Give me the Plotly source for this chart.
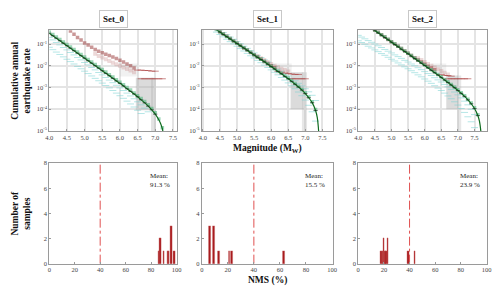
import plotly.graph_objects as go

# ---------------- data ----------------
MAG = [4.0, 4.1, 4.2, 4.3, 4.4, 4.5, 4.6, 4.7, 4.8, 4.9, 5.0, 5.1, 5.2, 5.3, 5.4, 5.5,
       5.6, 5.7, 5.8, 5.9, 6.0, 6.1, 6.2, 6.3, 6.4, 6.5, 6.6, 6.7, 6.8, 6.9, 7.0, 7.1,
       7.2, 7.3, 7.4, 7.5, 7.6]

set_names = ["Set_0", "Set_1", "Set_2"]

# log10 of cumulative annual rate; series start magnitude given
s0 = dict(
    line_start=4.0, line_tail_m=[7.1, 7.15, 7.2, 7.25],
    line_log=[-0.50, -0.62, -0.73, -0.85, -0.96, -1.08, -1.19, -1.31, -1.42, -1.54, -1.65,
              -1.77, -1.88, -2.00, -2.11, -2.23, -2.35, -2.46, -2.58, -2.70, -2.81, -2.93,
              -3.06, -3.18, -3.30, -3.43, -3.57, -3.71, -3.86, -4.03, -4.23],
    line_tail_log=[-4.49, -4.66, -4.90, -5.35],
    green_start=4.0,
    green_log=[-0.45, -0.56, -0.68, -0.79, -0.91, -1.02, -1.14, -1.25, -1.37, -1.48, -1.60,
               -1.71, -1.83, -1.94, -2.06, -2.17, -2.29, -2.41, -2.52, -2.64, -2.76, -2.88,
               -3.00, -3.12, -3.25, -3.38, -3.51, -3.65, -3.80, -3.97, -4.17, -4.45, -4.85],
    cyan_a_start=4.0,
    cyan_a_log=[-0.70, -0.81, -0.93, -1.04, -1.16, -1.27, -1.39, -1.50, -1.62, -1.73, -1.85,
                -1.96, -2.08, -2.19, -2.31, -2.42, -2.54, -2.66, -2.78, -2.90, -3.02, -3.14,
                -3.26, -3.39, -3.52, -3.66, -3.80, -3.95, -4.12],
    cyan_b_start=4.0,
    cyan_b_log=[-1.15, -1.26, -1.37, -1.48, -1.59, -1.70, -1.81, -1.92, -2.03, -2.14, -2.25,
                -2.36, -2.47, -2.58, -2.69, -2.80, -2.91, -3.02, -3.14, -3.26, -3.38, -3.50,
                -3.63, -3.76, -3.90, -4.05, -4.20],
    red_start=4.6,
    red_log=[-0.40, -0.55, -0.70, -0.82, -0.95, -1.05, -1.15, -1.25, -1.33, -1.40, -1.47,
             -1.53, -1.60, -1.67, -1.75, -1.83, -1.92, -2.00, -2.10],
    pink_start=5.3,
    pink_log=[-1.45, -1.55, -1.62, -1.70, -1.78, -1.86, -1.93, -2.00, -2.08, -2.15, -2.22, -2.30],
    dashA_start=6.5, dashA_log=[-2.20, -2.20, -2.22, -2.22, -2.25, -2.25],
    dashB_start=6.6, dashB_log=[-2.60, -2.60, -2.60, -2.60, -2.60, -2.60, -2.60],
    # gray uncertainty blocks: m0, m1, log_top, log_bottom, opacity
    gray=[[6.45, 6.95, -2.55, -4.05, 0.45], [6.88, 7.02, -2.55, -5.0, 0.35],
          [6.00, 6.50, -1.90, -2.50, 0.18]],
    xrange=[4.0, 7.62],
)
s1 = dict(
    line_start=4.3, line_tail_m=[7.35, 7.38, 7.40],
    line_log=[-0.24, -0.345, -0.45, -0.556, -0.66, -0.765, -0.87, -0.976, -1.08, -1.187,
              -1.29, -1.40, -1.505, -1.61, -1.715, -1.82, -1.93, -2.04, -2.15, -2.26, -2.37,
              -2.49, -2.60, -2.72, -2.85, -2.98, -3.12, -3.28, -3.47, -3.70, -4.06],
    line_tail_log=[-4.39, -4.81, -5.30],
    green_start=4.4,
    green_log=[-0.33, -0.44, -0.54, -0.65, -0.75, -0.86, -0.96, -1.07, -1.17, -1.28, -1.38,
               -1.49, -1.60, -1.70, -1.81, -1.91, -2.02, -2.13, -2.24, -2.35, -2.46, -2.57,
               -2.69, -2.82, -2.95, -3.09, -3.25, -3.44, -3.67, -4.02],
    cyan_a_start=4.4,
    cyan_a_log=[-0.26, -0.36, -0.47, -0.57, -0.68, -0.78, -0.89, -0.99, -1.10, -1.20, -1.31,
                -1.41, -1.52, -1.62, -1.73, -1.83, -1.94, -2.04, -2.15, -2.25, -2.36, -2.47,
                -2.58, -2.69, -2.81, -2.93, -3.06, -3.20, -3.36, -3.60],
    cyan_b_start=4.4,
    cyan_b_log=[-0.45, -0.56, -0.67, -0.78, -0.89, -0.99, -1.10, -1.21, -1.32, -1.43, -1.54,
                -1.64, -1.75, -1.86, -1.97, -2.08, -2.19, -2.30, -2.42, -2.54, -2.66, -2.79,
                -2.92, -3.06, -3.21, -3.38, -3.58, -3.82, -4.12, -4.55],
    red_start=4.5,
    red_log=[-0.43, -0.54, -0.64, -0.75, -0.86, -0.96, -1.07, -1.18, -1.28, -1.39, -1.49,
             -1.60, -1.70, -1.80, -1.90, -2.00, -2.08],
    pink_start=5.6,
    pink_log=[-1.55, -1.65, -1.74, -1.83, -1.92, -2.00, -2.07, -2.14, -2.20, -2.26],
    dashA_start=6.2, dashA_log=[-2.25, -2.30, -2.33, -2.36, -2.38, -2.40, -2.40],
    dashB_start=6.6, dashB_log=[-2.60, -2.60, -2.60, -2.60, -2.60],
    gray=[[6.57, 6.95, -2.30, -4.00, 0.45], [6.90, 7.05, -2.30, -5.0, 0.3],
          [6.10, 6.60, -1.90, -2.40, 0.18]],
    xrange=[3.97, 7.8],
)
s2 = dict(
    line_start=4.2, line_tail_m=[7.65, 7.70],
    line_log=[-0.059, -0.17, -0.273, -0.38, -0.487, -0.594, -0.70, -0.808, -0.916, -1.02,
              -1.13, -1.24, -1.345, -1.45, -1.56, -1.67, -1.775, -1.88, -1.99, -2.10, -2.21,
              -2.32, -2.43, -2.545, -2.66, -2.77, -2.89, -3.01, -3.14, -3.27, -3.41, -3.57,
              -3.75, -3.97, -4.29],
    line_tail_log=[-4.56, -5.15],
    green_start=4.4,
    green_log=[-0.25, -0.35, -0.46, -0.57, -0.67, -0.78, -0.89, -0.99, -1.10, -1.21, -1.32,
               -1.42, -1.53, -1.64, -1.75, -1.85, -1.96, -2.07, -2.18, -2.29, -2.40, -2.51,
               -2.63, -2.74, -2.86, -2.98, -3.11, -3.24, -3.38, -3.54, -3.72, -3.94, -4.26],
    cyan_a_start=4.0,
    cyan_a_log=[-0.60, -0.68, -0.76, -0.84, -0.92, -1.00, -1.08, -1.16, -1.25, -1.33, -1.41,
                -1.50, -1.58, -1.66, -1.75, -1.83, -1.92, -2.00, -2.09, -2.18, -2.27, -2.36,
                -2.45, -2.55, -2.65, -2.75, -2.86, -2.97, -3.09, -3.21, -3.34, -3.48, -3.63,
                -3.80, -4.00, -4.25],
    cyan_b_start=4.0,
    cyan_b_log=[-0.85, -0.93, -1.01, -1.10, -1.18, -1.27, -1.35, -1.44, -1.52, -1.61, -1.70,
                -1.78, -1.87, -1.96, -2.05, -2.14, -2.23, -2.32, -2.42, -2.51, -2.61, -2.71,
                -2.81, -2.92, -3.03, -3.14, -3.26, -3.39, -3.52, -3.66, -3.81, -3.97, -4.15,
                -4.35, -4.58, -4.85],
    red_start=4.5,
    red_log=[-0.36, -0.46, -0.57, -0.68, -0.79, -0.89, -1.00, -1.10, -1.21, -1.32, -1.42,
             -1.53, -1.63, -1.73, -1.83, -1.93, -2.02, -2.10, -2.18],
    pink_start=5.8,
    pink_log=[-1.65, -1.74, -1.83, -1.92, -2.00, -2.08, -2.16, -2.24, -2.32, -2.40],
    dashA_start=6.5, dashA_log=[-2.40, -2.45, -2.45, -2.48],
    dashB_start=6.7, dashB_log=[-2.60, -2.60, -2.60, -2.60, -2.60, -2.60, -2.60],
    gray=[[6.65, 7.00, -2.45, -4.00, 0.45], [6.98, 7.10, -2.45, -5.0, 0.3],
          [6.20, 6.65, -1.90, -2.40, 0.18]],
    xrange=[4.0, 7.88],
)
top_sets = [s0, s1, s2]

# histogram of NMS (%)
nms_x = [[86, 87, 90, 93, 94, 96, 98],
         [6, 9, 13, 21, 23, 63],
         [18, 19, 20, 21, 22, 23, 39, 44]]
nms_n = [[1, 2, 1, 1, 1, 3, 1],
         [3, 3, 1, 1, 1, 1],
         [1, 1, 2, 1, 1, 2, 1, 1]]
nms_mean = ["91.3", "15.5", "23.9"]
nms_threshold = 40

# ---------------- layout geometry ----------------
W, H = 500, 293
col_px = [(46, 176), (201, 334), (360, 491)]
top_px = (27, 130)
bot_px = (163, 266)
FONT = "Liberation Serif"


def xd(a, b):
    return [a / W, b / W]


def yd(t, b):
    return [1 - b / H, 1 - t / H]


def mags(start, n):
    i = MAG.index(start)
    return MAG[i:i + n]


def rates(logs):
    return [10 ** v for v in logs]


fig = go.Figure()
layout = dict(width=W, height=H, margin=dict(l=0, r=0, t=0, b=0),
              paper_bgcolor="white", plot_bgcolor="white", showlegend=False,
              font=dict(family=FONT, color="#222"), bargap=0)

axis_common = dict(showline=True, mirror=True, linecolor="#9a9a9a", linewidth=1,
                   ticks="inside", ticklen=2, tickcolor="#9a9a9a",
                   tickfont=dict(family=FONT, size=6.5, color="#444"), zeroline=False)

annotations = []
for k, s in enumerate(top_sets):
    xa = "x%d" % (k + 1) if k else "x"
    ya = "y%d" % (k + 1) if k else "y"
    # gray uncertainty blocks
    for g in s["gray"]:
        m0, m1, lt, lb, op = g
        fig.add_trace(go.Scatter(x=[m0, m1, m1, m0, m0],
                                 y=rates([lt, lt, lb, lb, lt]), mode="lines",
                                 fill="toself", fillcolor="rgba(175,175,175,%.2f)" % op,
                                 line=dict(width=0), xaxis=xa, yaxis=ya, hoverinfo="skip"))
    # cyan dashes
    for key in ("cyan_a", "cyan_b"):
        v = s[key + "_log"]
        fig.add_trace(go.Scatter(x=mags(s[key + "_start"], len(v)), y=rates(v), mode="markers",
                                 marker=dict(symbol="line-ew", size=5,
                                             line=dict(width=1, color="rgba(120,210,210,0.55)")),
                                 xaxis=xa, yaxis=ya))
    # pink cloud (observed samples)
    v = s["pink_log"]
    fig.add_trace(go.Scatter(x=mags(s["pink_start"], len(v)), y=rates(v), mode="markers",
                             marker=dict(symbol="square", size=4, color="rgba(190,120,120,0.28)",
                                         line=dict(width=0)),
                             xaxis=xa, yaxis=ya))
    # red dashes
    for key in ("dashA", "dashB"):
        v = s[key + "_log"]
        fig.add_trace(go.Scatter(x=mags(s[key + "_start"], len(v)), y=rates(v), mode="markers",
                                 marker=dict(symbol="line-ew", size=5,
                                             line=dict(width=1, color="rgba(170,60,60,0.6)")),
                                 xaxis=xa, yaxis=ya))
    # red squares
    v = s["red_log"]
    fig.add_trace(go.Scatter(x=mags(s["red_start"], len(v)), y=rates(v), mode="markers",
                             marker=dict(symbol="square", size=3.5, color="rgba(150,50,50,0.5)",
                                         line=dict(width=0)),
                             xaxis=xa, yaxis=ya))
    # green squares
    v = s["green_log"]
    fig.add_trace(go.Scatter(x=mags(s["green_start"], len(v)), y=rates(v), mode="markers",
                             marker=dict(symbol="square", size=3.5, color="rgba(70,180,120,0.55)",
                                         line=dict(width=0)),
                             xaxis=xa, yaxis=ya))
    # model line with small black dashes
    v = s["line_log"]
    lm = mags(s["line_start"], len(v)) + s["line_tail_m"]
    lv = rates(v + s["line_tail_log"])
    fig.add_trace(go.Scatter(x=lm, y=lv, mode="lines", line=dict(color="#0f6b1f", width=1.2),
                             line_shape="spline", xaxis=xa, yaxis=ya))
    fig.add_trace(go.Scatter(x=mags(s["line_start"], len(v)), y=rates(v), mode="markers",
                             marker=dict(symbol="line-ew", size=3,
                                         line=dict(width=0.8, color="rgba(20,20,20,0.7)")),
                             xaxis=xa, yaxis=ya))

    ax = dict(axis_common, domain=xd(*col_px[k]), range=s["xrange"], anchor=ya,
              tickvals=[4.0, 4.5, 5.0, 5.5, 6.0, 6.5, 7.0, 7.5],
              ticktext=["4.0", "4.5", "5.0", "5.5", "6.0", "6.5", "7.0", "7.5"],
              showgrid=True, gridcolor="#e4e4e4", gridwidth=1.5)
    ay = dict(axis_common, domain=yd(*top_px), type="log", range=[-5, -0.37], anchor=xa,
              tickvals=[1e-5, 1e-4, 1e-3, 1e-2, 1e-1],
              ticktext=["10<sup>-5</sup>", "10<sup>-4</sup>", "10<sup>-3</sup>",
                        "10<sup>-2</sup>", "10<sup>-1</sup>"],
              showgrid=True, gridcolor="#e4e4e4", gridwidth=1.5)
    layout["xaxis" + ("%d" % (k + 1) if k else "")] = ax
    layout["yaxis" + ("%d" % (k + 1) if k else "")] = ay

    cx = (col_px[k][0] + col_px[k][1]) / 2 / W
    annotations.append(dict(text="<b>%s</b>" % set_names[k], x=cx, y=1 - 15 / H, xref="paper",
                            yref="paper", xanchor="center", yanchor="middle", showarrow=False,
                            font=dict(family=FONT, size=9, color="#111"),
                            bordercolor="#c8c8c8", borderwidth=1, borderpad=3, bgcolor="white"))

for k in range(3):
    n = k + 4
    xa, ya = "x%d" % n, "y%d" % n
    fig.add_trace(go.Bar(x=nms_x[k], y=nms_n[k], width=1.3, marker=dict(color="#a8191c",
                         line=dict(width=0.4, color="#c86060")), xaxis=xa, yaxis=ya))
    fig.add_trace(go.Scatter(x=[nms_threshold, nms_threshold], y=[0, 8], mode="lines",
                             line=dict(color="#e05050", width=1, dash="dashdot"),
                             xaxis=xa, yaxis=ya))
    layout["xaxis%d" % n] = dict(axis_common, domain=xd(*col_px[k]), range=[0, 100.5], anchor=ya,
                                 tickvals=[0, 20, 40, 60, 80, 100], showgrid=False)
    layout["yaxis%d" % n] = dict(axis_common, domain=yd(*bot_px), range=[0, 8], anchor=xa,
                                 tickvals=[0, 2, 4, 6, 8], showgrid=False)
    annotations.append(dict(text="Mean:<br>%s %%" % nms_mean[k], x=87, y=6.6, xref=xa, yref=ya,
                            xanchor="center", yanchor="middle", showarrow=False, align="left",
                            font=dict(family=FONT, size=7, color="#222")))

annotations += [
    dict(text="<b>Cumulative annual<br>earthquake rate</b>", x=17 / W, y=1 - 79 / H,
         xref="paper", yref="paper", xanchor="center", yanchor="middle", textangle=-90,
         showarrow=False, font=dict(family=FONT, size=9.5, color="#111")),
    dict(text="<b>Number of<br>samples</b>", x=17 / W, y=1 - 214 / H,
         xref="paper", yref="paper", xanchor="center", yanchor="middle", textangle=-90,
         showarrow=False, font=dict(family=FONT, size=9.5, color="#111")),
    dict(text="<b>Magnitude (M<sub>W</sub>)</b>", x=268 / W, y=1 - 148 / H,
         xref="paper", yref="paper", xanchor="center", yanchor="middle", showarrow=False,
         font=dict(family=FONT, size=9.5, color="#111")),
    dict(text="<b>NMS (%)</b>", x=268 / W, y=1 - 283 / H,
         xref="paper", yref="paper", xanchor="center", yanchor="middle", showarrow=False,
         font=dict(family=FONT, size=9.5, color="#111")),
]
layout["annotations"] = annotations
fig.update_layout(**layout)
fig.write_html("out.html")
